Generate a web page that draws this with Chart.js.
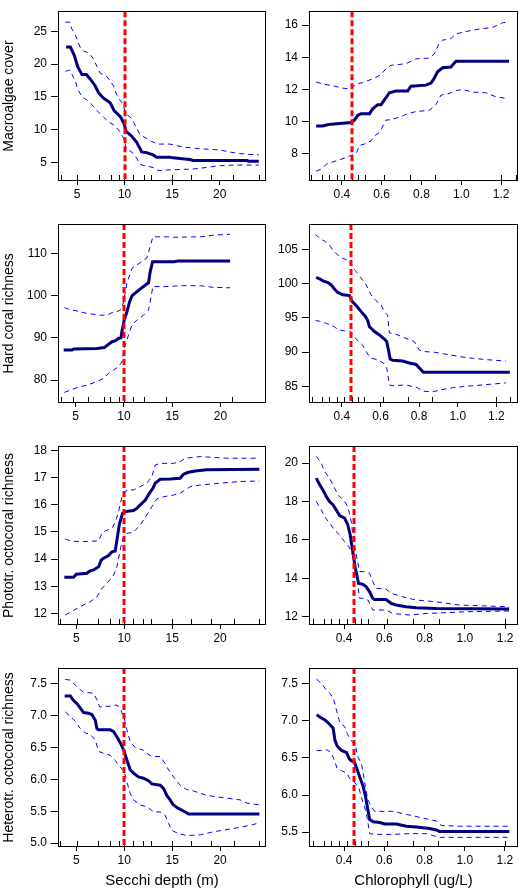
<!DOCTYPE html>
<html>
<head>
<meta charset="utf-8">
<script src="https://cdn.jsdelivr.net/npm/chart.js@4.4.1/dist/chart.umd.min.js"></script>
<style>
body { margin: 0; background: #fff; width: 519px; height: 893px; overflow: hidden; position: relative; }
canvas { position: absolute; }
</style>
</head>
<body>
<canvas id="p1" width="268" height="212" style="left:0;top:0"></canvas>
<canvas id="p2" width="251" height="212" style="left:268px;top:0"></canvas>
<canvas id="p3" width="268" height="222" style="left:0;top:212px"></canvas>
<canvas id="p4" width="251" height="222" style="left:268px;top:212px"></canvas>
<canvas id="p5" width="268" height="222" style="left:0;top:434px"></canvas>
<canvas id="p6" width="251" height="222" style="left:268px;top:434px"></canvas>
<canvas id="p7" width="268" height="237" style="left:0;top:656px"></canvas>
<canvas id="p8" width="251" height="237" style="left:268px;top:656px"></canvas>
<script>
// x axes
const secchiTicks = [5, 10, 15, 20];
const chlTicks = [0.4, 0.6, 0.8, 1.0, 1.2];
const secchiCut = 10;
const chlCut = 0.45;

// rug marks (observations) along the x axis
const secchiRug = [3.3, 5.03, 7.31, 8.53, 9.41, 9.97, 10.87, 11.99, 12.76, 15.03, 16.96, 19.06, 21.43, 24.09];
const coralSecchiRug = [3.45, 4.69, 6.24, 7.9, 8.59, 9.52, 10.04, 10.9, 12.03, 14.4, 21.2];
const chlRug = [0.245, 0.298, 0.335, 0.375, 0.413, 0.452, 0.482, 0.517, 0.612, 0.742, 0.869, 1.2, 1.273];

// Macroalgae cover ~ Secchi
const macroSecchiTicks = [5, 10, 15, 20, 25];
const macroSecchiFit = [[3.85,22.6],[4.3,22.6],[4.72,21.3],[5.07,19.6],[5.52,18.4],[5.98,18.4],[6.4,17.7],[6.9,16.7],[7.27,15.6],[7.79,14.8],[8.48,14.1],[8.9,12.9],[9.6,11.9],[9.95,10.9],[10.16,9.75],[10.75,9.0],[11.27,8.07],[11.8,6.6],[12.3,6.5],[13.0,6.15],[13.36,5.8],[14.76,5.8],[15.1,5.7],[15.8,5.6],[16.85,5.45],[17.2,5.3],[22.9,5.3],[23.0,5.2],[24.1,5.2]];
const macroSecchiUp = [[3.78,26.4],[4.23,26.4],[4.48,25.3],[4.83,24.4],[5.1,23.4],[5.35,22.5],[5.7,22.0],[6.22,21.7],[6.74,20.8],[7.1,19.6],[7.44,18.6],[8.14,18.1],[8.83,16.7],[9.18,15.3],[9.7,14.1],[9.95,13.3],[10.16,12.4],[10.75,11.7],[11.27,10.2],[11.6,9.3],[12.14,8.8],[12.84,8.2],[13.54,7.8],[14.76,7.8],[16.15,7.35],[17.9,7.1],[20.0,6.9],[21.4,6.5],[22.8,6.25],[24.1,6.15]];
const macroSecchiLo = [[3.78,18.9],[4.23,19.1],[4.48,18.4],[4.83,17.4],[5.07,16.2],[5.52,15.0],[6.05,14.5],[6.57,13.8],[7.1,12.9],[7.79,11.9],[8.31,11.2],[9.0,10.6],[9.6,9.5],[9.95,8.55],[10.16,7.1],[10.75,6.6],[11.27,5.67],[11.6,4.7],[12.14,4.5],[13.0,4.23],[13.54,3.75],[14.4,3.85],[17.2,4.0],[18.6,4.23],[20.0,4.5],[21.4,4.6],[24.1,4.6]];

// Macroalgae cover ~ Chlorophyll
const macroChlTicks = [8, 10, 12, 14, 16];
const macroChlFit = [[0.271,9.74],[0.305,9.74],[0.322,9.8],[0.347,9.85],[0.388,9.89],[0.447,9.95],[0.463,10.1],[0.48,10.4],[0.497,10.5],[0.539,10.5],[0.555,10.8],[0.58,11.06],[0.597,11.06],[0.614,11.36],[0.639,11.8],[0.672,11.9],[0.731,11.9],[0.747,12.2],[0.823,12.27],[0.848,12.4],[0.864,12.7],[0.881,13.1],[0.906,13.35],[0.948,13.4],[0.973,13.75],[1.24,13.75]];
const macroChlUp = [[0.271,12.47],[0.305,12.33],[0.355,12.23],[0.405,12.08],[0.447,12.04],[0.472,12.33],[0.505,12.43],[0.555,12.66],[0.597,12.92],[0.622,13.3],[0.647,13.5],[0.722,13.6],[0.772,13.9],[0.839,13.95],[0.864,14.2],[0.889,14.87],[0.906,15.06],[0.948,15.16],[0.973,15.45],[1.023,15.6],[1.09,15.75],[1.157,15.85],[1.207,16.14],[1.24,16.2]];
const macroChlLo = [[0.271,6.93],[0.296,7.06],[0.322,7.36],[0.355,7.51],[0.388,7.63],[0.422,7.79],[0.455,7.95],[0.472,8.04],[0.489,8.53],[0.514,8.62],[0.547,8.82],[0.564,9.11],[0.589,9.35],[0.622,10.1],[0.647,10.13],[0.689,10.28],[0.731,10.5],[0.772,10.63],[0.839,10.71],[0.873,11.06],[0.898,11.65],[0.939,11.75],[0.973,11.94],[1.006,12.0],[1.056,11.84],[1.123,11.8],[1.173,11.55],[1.223,11.45]];

// Hard coral richness ~ Secchi
const coralSecchiTicks = [80, 90, 100, 110];
const coralSecchiFit = [[3.76,87.1],[4.62,87.1],[4.79,87.35],[7.21,87.5],[7.97,87.7],[8.41,88.5],[8.76,89.1],[9.1,89.3],[9.45,89.9],[9.69,90.05],[9.79,91.5],[10.03,94.2],[10.31,96.2],[10.59,98.6],[10.83,100.0],[11.34,101.0],[12.03,102.2],[12.55,103.1],[12.72,105.7],[12.97,108.1],[15.14,108.1],[15.66,108.26],[21.0,108.26]];
const coralSecchiUp = [[3.83,97.2],[4.28,96.8],[5.14,96.4],[6.17,95.8],[7.55,95.4],[8.24,95.4],[8.76,96.0],[9.45,96.4],[9.79,96.9],[10.03,99.4],[10.31,103.0],[10.83,106.5],[11.34,107.3],[12.38,109.0],[12.72,111.7],[13.0,114.0],[14.45,114.0],[14.97,113.9],[17.9,114.0],[19.28,114.4],[21.0,114.6]];
const coralSecchiLo = [[3.83,77.06],[4.45,77.6],[5.14,78.2],[6.17,78.8],[7.21,79.6],[7.9,80.4],[8.41,81.6],[8.93,82.4],[9.45,83.2],[9.79,84.3],[10.03,87.5],[10.48,90.7],[10.83,93.1],[11.34,94.2],[12.03,95.4],[12.55,96.6],[12.72,98.6],[13.0,102.2],[14.45,102.2],[16.17,102.4],[17.9,102.4],[19.28,102.0],[21.0,101.9]];

// Hard coral richness ~ Chlorophyll
const coralChlTicks = [85, 90, 95, 100, 105];
const coralChlFit = [[0.267,100.9],[0.285,100.7],[0.302,100.4],[0.328,100.15],[0.345,99.8],[0.362,99.2],[0.379,98.7],[0.405,98.35],[0.44,98.25],[0.453,97.4],[0.474,96.8],[0.5,95.9],[0.522,95.2],[0.534,94.6],[0.543,93.7],[0.569,93.0],[0.595,92.5],[0.62,91.9],[0.632,91.55],[0.643,90.1],[0.65,89.0],[0.663,88.8],[0.715,88.7],[0.749,88.4],[0.784,88.2],[0.801,87.7],[0.822,87.04],[1.27,87.04]];
const coralChlUp = [[0.264,107.2],[0.285,106.6],[0.31,106.2],[0.336,105.6],[0.353,104.9],[0.388,103.9],[0.414,103.6],[0.44,103.3],[0.453,102.5],[0.474,101.75],[0.5,100.8],[0.526,99.8],[0.551,98.35],[0.577,97.5],[0.603,96.9],[0.62,95.9],[0.637,95.4],[0.646,92.8],[0.68,92.6],[0.732,92.0],[0.775,91.55],[0.801,90.3],[0.818,90.1],[0.887,89.95],[0.956,89.6],[1.042,89.2],[1.145,88.9],[1.249,88.7]];
const coralChlLo = [[0.264,94.6],[0.285,94.5],[0.319,94.2],[0.362,93.7],[0.379,93.25],[0.414,93.1],[0.44,93.1],[0.457,92.5],[0.483,91.65],[0.508,91.0],[0.534,89.7],[0.551,89.1],[0.586,88.9],[0.615,88.4],[0.632,87.8],[0.646,85.2],[0.663,85.1],[0.732,85.2],[0.792,84.8],[0.818,84.3],[0.87,84.2],[0.913,84.5],[0.973,84.8],[1.042,85.0],[1.145,85.25],[1.249,85.5]];

// Phototrophic octocoral richness ~ Secchi
const photoSecchiTicks = [12, 13, 14, 15, 16, 17, 18];
const photoSecchiFit = [[3.75,13.33],[4.72,13.33],[5.0,13.44],[6.11,13.48],[6.39,13.56],[6.81,13.6],[7.33,13.72],[7.6,13.97],[7.85,14.03],[8.37,14.13],[8.72,14.27],[9.06,14.3],[9.24,14.7],[9.48,15.26],[9.83,15.69],[10.1,15.75],[10.97,15.79],[11.32,15.87],[11.67,16.0],[12.19,16.18],[12.64,16.43],[12.99,16.61],[13.23,16.8],[13.75,16.94],[14.79,16.95],[15.83,16.98],[16.18,17.13],[16.7,17.2],[17.4,17.25],[18.6,17.29],[24.1,17.31]];
const photoSecchiUp = [[3.85,14.74],[4.38,14.67],[5.42,14.64],[7.33,14.67],[7.67,14.95],[8.02,15.04],[8.72,15.14],[9.06,15.36],[9.41,15.75],[9.76,16.3],[10.0,16.43],[10.28,16.55],[10.97,16.55],[11.67,16.67],[12.36,16.8],[12.88,17.04],[13.23,17.47],[13.75,17.53],[15.14,17.53],[15.83,17.59],[16.35,17.72],[16.88,17.74],[17.92,17.78],[20.7,17.72],[24.1,17.72]];
const photoSecchiLo = [[3.85,11.94],[4.38,12.04],[5.07,12.18],[5.76,12.31],[6.46,12.43],[7.15,12.61],[7.67,12.92],[8.19,13.1],[8.89,13.41],[9.24,13.72],[9.58,14.34],[9.86,14.77],[10.28,14.95],[10.97,14.99],[11.67,15.26],[12.36,15.63],[12.88,15.93],[13.4,16.22],[14.1,16.3],[15.14,16.36],[15.83,16.43],[16.35,16.55],[16.88,16.67],[17.92,16.73],[20.0,16.8],[22.08,16.86],[24.1,16.88]];

// Phototrophic octocoral richness ~ Chlorophyll
const photoChlTicks = [12, 14, 16, 18, 20];
const photoChlFit = [[0.261,19.22],[0.278,18.87],[0.294,18.6],[0.311,18.26],[0.327,18.0],[0.344,17.83],[0.36,17.57],[0.377,17.27],[0.402,17.13],[0.418,16.78],[0.43,16.26],[0.44,15.57],[0.448,15.04],[0.455,14.52],[0.463,14.17],[0.471,13.74],[0.493,13.69],[0.509,13.57],[0.526,13.3],[0.542,12.96],[0.55,12.9],[0.608,12.9],[0.633,12.7],[0.658,12.61],[0.707,12.52],[0.757,12.47],[0.856,12.43],[1.22,12.4]];
const photoChlUp = [[0.261,20.35],[0.286,20.0],[0.302,19.57],[0.327,19.22],[0.352,18.7],[0.369,18.35],[0.402,18.0],[0.418,17.74],[0.435,16.96],[0.447,15.91],[0.46,15.22],[0.476,14.35],[0.501,14.35],[0.526,14.26],[0.542,13.83],[0.559,13.48],[0.608,13.44],[0.633,13.22],[0.691,13.04],[0.757,12.87],[0.856,12.78],[0.972,12.61],[1.22,12.52]];
const photoChlLo = [[0.261,18.0],[0.286,17.57],[0.302,17.22],[0.327,16.87],[0.352,16.52],[0.377,16.26],[0.402,15.91],[0.423,15.65],[0.435,15.39],[0.447,15.04],[0.46,14.35],[0.476,12.96],[0.493,12.96],[0.518,12.87],[0.542,12.35],[0.608,12.35],[0.641,12.17],[0.724,12.09],[0.807,12.17],[0.906,12.21],[1.005,12.26],[1.22,12.3]];

// Heterotrophic octocoral richness ~ Secchi
const heteroSecchiTicks = [5.0, 5.5, 6.0, 6.5, 7.0, 7.5];
const heteroSecchiFit = [[3.78,7.31],[4.38,7.31],[4.65,7.25],[5.07,7.19],[5.42,7.12],[5.76,7.05],[6.28,7.04],[6.63,7.02],[6.98,6.93],[7.15,6.8],[7.33,6.78],[8.54,6.78],[8.89,6.75],[9.31,6.65],[9.65,6.56],[10.0,6.44],[10.28,6.3],[10.63,6.15],[10.97,6.1],[11.49,6.04],[12.01,6.02],[12.53,5.98],[12.88,5.93],[13.75,5.91],[14.1,5.86],[14.44,5.75],[14.79,5.68],[15.07,5.61],[15.49,5.56],[16.0,5.52],[16.35,5.49],[16.7,5.46],[24.1,5.46]];
const heteroSecchiUp = [[3.85,7.57],[4.38,7.56],[4.9,7.48],[5.42,7.41],[5.76,7.37],[6.46,7.36],[6.81,7.35],[7.15,7.25],[7.43,7.14],[8.54,7.15],[9.24,7.17],[9.65,7.09],[10.0,6.96],[10.28,6.78],[10.63,6.59],[11.15,6.5],[12.01,6.46],[12.36,6.41],[12.88,6.36],[13.75,6.36],[14.27,6.25],[14.62,6.15],[15.14,6.04],[15.83,5.91],[16.53,5.84],[17.22,5.82],[18.61,5.75],[20.0,5.72],[22.08,5.68],[22.78,5.63],[24.1,5.6]];
const heteroSecchiLo = [[3.85,7.06],[4.38,6.99],[4.9,6.91],[5.42,6.8],[5.94,6.73],[6.46,6.71],[6.98,6.62],[7.33,6.44],[7.85,6.41],[8.54,6.38],[9.06,6.3],[9.51,6.21],[10.0,6.12],[10.28,5.96],[10.63,5.78],[10.97,5.68],[11.67,5.6],[12.36,5.57],[13.06,5.49],[13.75,5.49],[14.27,5.44],[14.62,5.31],[14.97,5.2],[15.66,5.15],[16.53,5.12],[17.92,5.13],[19.31,5.18],[21.39,5.23],[23.13,5.28],[24.1,5.32]];

// Heterotrophic octocoral richness ~ Chlorophyll
const heteroChlTicks = [5.5, 6.0, 6.5, 7.0, 7.5];
const heteroChlFit = [[0.263,7.08],[0.279,7.05],[0.304,7.01],[0.329,6.95],[0.345,6.9],[0.354,6.74],[0.365,6.66],[0.387,6.6],[0.412,6.57],[0.425,6.49],[0.436,6.46],[0.45,6.45],[0.461,6.37],[0.478,6.24],[0.494,6.12],[0.507,5.97],[0.514,5.86],[0.527,5.67],[0.544,5.64],[0.577,5.63],[0.602,5.61],[0.66,5.61],[0.709,5.58],[0.759,5.57],[0.825,5.55],[0.858,5.53],[0.874,5.51],[1.222,5.51]];
const heteroChlUp = [[0.263,7.56],[0.288,7.5],[0.312,7.41],[0.332,7.36],[0.349,7.28],[0.359,7.17],[0.379,6.97],[0.403,6.92],[0.415,6.83],[0.425,6.77],[0.436,6.73],[0.448,6.69],[0.458,6.64],[0.469,6.51],[0.486,6.42],[0.498,6.24],[0.507,6.09],[0.519,5.93],[0.536,5.84],[0.552,5.78],[0.643,5.78],[0.709,5.74],[0.775,5.7],[0.858,5.65],[0.883,5.59],[0.974,5.58],[1.222,5.58]];
const heteroChlLo = [[0.263,6.6],[0.288,6.6],[0.312,6.61],[0.332,6.58],[0.345,6.51],[0.365,6.36],[0.387,6.33],[0.415,6.29],[0.428,6.22],[0.448,6.18],[0.461,6.14],[0.474,6.09],[0.486,5.97],[0.502,5.84],[0.514,5.7],[0.527,5.48],[0.552,5.47],[0.643,5.47],[0.726,5.48],[0.808,5.48],[0.874,5.43],[0.974,5.43],[1.222,5.43]];

const tickFont = { family: 'Arial, "Liberation Sans", sans-serif', size: 12 };
const titleFont = { family: 'Arial, "Liberation Sans", sans-serif', size: 14 };

// rug, threshold line and box around the plot region
const marks = {
  id: 'marks',
  afterDatasetsDraw(chart, args, opts) {
    const { ctx, chartArea: a, scales: { x } } = chart;
    ctx.save();
    ctx.strokeStyle = '#000';
    ctx.lineWidth = 1;
    ctx.beginPath();
    opts.rug.forEach(v => {
      const px = Math.round(x.getPixelForValue(v)) + 0.5;
      ctx.moveTo(px, a.bottom);
      ctx.lineTo(px, a.bottom - 6);
    });
    ctx.stroke();
    const cx = Math.round(x.getPixelForValue(opts.cut));
    ctx.strokeStyle = '#ff0000';
    ctx.lineWidth = 3;
    ctx.setLineDash([6, 3]);
    ctx.beginPath();
    ctx.moveTo(cx, a.top);
    ctx.lineTo(cx, a.bottom);
    ctx.stroke();
    ctx.setLineDash([]);
    ctx.strokeStyle = '#000';
    ctx.lineWidth = 1;
    ctx.strokeRect(Math.round(a.left) + 0.5, Math.round(a.top) + 0.5,
      Math.round(a.right - a.left) - 1, Math.round(a.bottom - a.top) - 1);
    ctx.restore();
  }
};

function series(pts, color, width, dash) {
  return {
    data: pts.map(p => ({ x: p[0], y: p[1] })),
    borderColor: color,
    borderWidth: width,
    borderDash: dash,
    pointRadius: 0,
    tension: 0,
    fill: false
  };
}

function panel(id, o) {
  new Chart(id, {
    type: 'line',
    data: {
      datasets: [
        series(o.fit, '#000080', 3, []),
        series(o.up, '#0000ff', 1, [5, 4]),
        series(o.lo, '#0000ff', 1, [5, 4])
      ]
    },
    options: {
      responsive: false,
      animation: false,
      devicePixelRatio: 1,
      layout: { padding: { top: o.top, right: o.right, left: 0, bottom: 0 } },
      plugins: {
        legend: { display: false },
        tooltip: { enabled: false },
        marks: { rug: o.rug, cut: o.cut }
      },
      scales: {
        x: {
          type: 'linear',
          bounds: 'data',
          min: o.xmin,
          max: o.xmax,
          afterBuildTicks: s => { s.ticks = o.xTicks.map(v => ({ value: v })); },
          afterFit: s => { s.height = o.bottom; },
          grid: { drawOnChartArea: false, color: '#000', tickLength: 4 },
          border: { display: false },
          ticks: { color: '#000', font: tickFont, padding: 2, maxRotation: 0, autoSkip: false,
            callback: v => v.toFixed(o.xDec) },
          title: { display: !!o.xtitle, text: o.xtitle, color: '#000',
            font: { family: tickFont.family, size: 15 }, padding: { top: 0, bottom: 3 } }
        },
        y: {
          type: 'linear',
          bounds: 'data',
          min: o.ymin,
          max: o.ymax,
          afterBuildTicks: s => { s.ticks = o.yTicks.map(v => ({ value: v })); },
          afterFit: s => { s.width = o.left; },
          grid: { drawOnChartArea: false, color: '#000', tickLength: 7 },
          border: { display: false },
          ticks: { color: '#000', font: tickFont, padding: 4, autoSkip: false,
            callback: v => v.toFixed(o.yDec) },
          title: { display: !!o.ytitle, text: o.ytitle, color: '#000', font: titleFont,
            padding: { top: 1, bottom: 0 } }
        }
      }
    },
    plugins: [marks]
  });
}

const L = { left: 58, right: 2, xTicks: secchiTicks, xDec: 0, rug: secchiRug, cut: secchiCut };
const R = { left: 41, right: 1, xTicks: chlTicks, xDec: 1, rug: chlRug, cut: chlCut };

panel('p1', Object.assign({}, L, { top: 1, bottom: 31, xmin: 3.0, xmax: 24.86, ymin: 2.17, ymax: 28.07,
  yTicks: macroSecchiTicks, yDec: 0, ytitle: 'Macroalgae cover',
  fit: macroSecchiFit, up: macroSecchiUp, lo: macroSecchiLo }));
panel('p2', Object.assign({}, R, { top: 1, bottom: 31, xmin: 0.235, xmax: 1.285, ymin: 6.32, ymax: 16.86,
  yTicks: macroChlTicks, yDec: 0,
  fit: macroChlFit, up: macroChlUp, lo: macroChlLo }));
panel('p3', Object.assign({}, L, { top: 12, bottom: 31, xmin: 3.17, xmax: 24.72, ymin: 74.54, ymax: 117.05,
  yTicks: coralSecchiTicks, yDec: 0, ytitle: 'Hard coral richness', rug: coralSecchiRug,
  fit: coralSecchiFit, up: coralSecchiUp, lo: coralSecchiLo }));
panel('p4', Object.assign({}, R, { top: 12, bottom: 31, xmin: 0.23, xmax: 1.312, ymin: 82.57, ymax: 108.69,
  yTicks: coralChlTicks, yDec: 0,
  fit: coralChlFit, up: coralChlUp, lo: coralChlLo }));
panel('p5', Object.assign({}, L, { top: 12, bottom: 31, xmin: 3.09, xmax: 24.79, ymin: 11.57, ymax: 18.17,
  yTicks: photoSecchiTicks, yDec: 0, ytitle: 'Phototr. octocoral richness',
  fit: photoSecchiFit, up: photoSecchiUp, lo: photoSecchiLo }));
panel('p6', Object.assign({}, R, { top: 12, bottom: 31, xmin: 0.225, xmax: 1.264, ymin: 11.57, ymax: 20.89,
  yTicks: photoChlTicks, yDec: 0,
  fit: photoChlFit, up: photoChlUp, lo: photoChlLo }));
panel('p7', Object.assign({}, L, { top: 12, bottom: 46, xmin: 3.09, xmax: 24.79, ymin: 4.94, ymax: 7.75,
  yTicks: heteroSecchiTicks, yDec: 1, ytitle: 'Heterotr. octocoral richness', xtitle: 'Secchi depth (m)',
  fit: heteroSecchiFit, up: heteroSecchiUp, lo: heteroSecchiLo }));
panel('p8', Object.assign({}, R, { top: 12, bottom: 46, xmin: 0.225, xmax: 1.265, ymin: 5.3, ymax: 7.71,
  yTicks: heteroChlTicks, yDec: 1, xtitle: 'Chlorophyll (ug/L)',
  fit: heteroChlFit, up: heteroChlUp, lo: heteroChlLo }));
</script>
</body>
</html>
